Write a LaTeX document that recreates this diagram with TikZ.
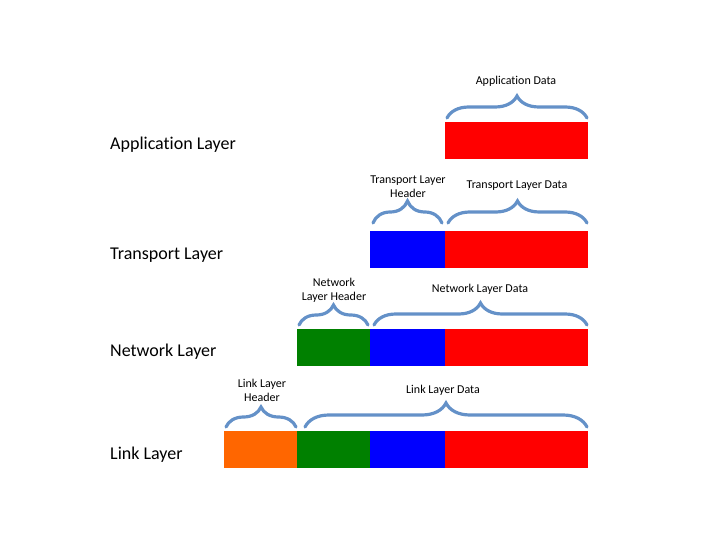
\documentclass[tikz,border=0pt]{standalone}
\usepackage{fontspec}
\setmainfont{Carlito}[Ligatures={NoCommon}]
\usetikzlibrary{decorations.pathreplacing}
\definecolor{cred}{RGB}{255,0,0}
\definecolor{cblue}{RGB}{0,0,255}
\definecolor{cgreen}{RGB}{0,128,0}
\definecolor{corange}{RGB}{255,102,0}
\definecolor{bracecol}{RGB}{100,145,200}
\tikzset{
  seg/.style={anchor=north west, inner sep=0pt, minimum height=37pt, draw=none},
  layer/.style={anchor=west, font=\fontsize{18}{20}\selectfont, inner sep=0pt},
  lab/.style={font=\fontsize{12}{14}\selectfont, align=center, inner sep=0pt},
  brc/.style={draw=bracecol, line width=3.2pt, line cap=round, decorate, decoration={brace, amplitude=#1}},
  brc/.default=22pt
}
\begin{document}
\begin{tikzpicture}[x=1pt,y=-1pt]
\useasboundingbox (0,0) rectangle (720,540);
% layer labels
\node[layer] (lapp) at (110,145) {Application Layer};
\node[layer] (ltra) at (110,255) {Transport Layer};
\node[layer] (lnet) at (110,352) {Network Layer};
\node[layer] (llnk) at (110,455) {Link Layer};
% application
\node[seg, fill=cred, minimum width=143pt] (a1) at (445,122) {};
\coordinate (ab1) at (447,118); \coordinate (ab2) at (587,118);
\draw[brc=22pt] (ab1) -- (ab2);
\node[lab] (atx) at (516,81) {Application Data};
% transport
\node[seg, fill=cblue, minimum width=75pt] (t1) at (370,231) {};
\node[seg, fill=cred, minimum width=143pt] (t2) at (445,231) {};
\coordinate (th1) at (373,223); \coordinate (th2) at (442,223);
\draw[brc=22pt] (th1) -- (th2);
\coordinate (td1) at (448,223); \coordinate (td2) at (587,223);
\draw[brc=22pt] (td1) -- (td2);
\node[lab] (thx) at (408,187) {Transport Layer\\Header};
\node[lab] (tdx) at (517,186) {Transport Layer Data};
% network
\node[seg, fill=cgreen, minimum width=73pt] (n1) at (297,329) {};
\node[seg, fill=cblue, minimum width=75pt] (n2) at (370,329) {};
\node[seg, fill=cred, minimum width=143pt] (n3) at (445,329) {};
\coordinate (nh1) at (299,325); \coordinate (nh2) at (368,325);
\draw[brc=20pt] (nh1) -- (nh2);
\coordinate (nd1) at (374,325); \coordinate (nd2) at (587,325);
\draw[brc=22pt] (nd1) -- (nd2);
\node[lab] (nhx) at (334,290) {Network\\Layer Header};
\node[lab] (ndx) at (480,289) {Network Layer Data};
% link
\node[seg, fill=corange, minimum width=73pt] (k1) at (224,431) {};
\node[seg, fill=cgreen, minimum width=73pt] (k2) at (297,431) {};
\node[seg, fill=cblue, minimum width=75pt] (k3) at (370,431) {};
\node[seg, fill=cred, minimum width=143pt] (k4) at (445,431) {};
\coordinate (kh1) at (226,427); \coordinate (kh2) at (296,427);
\draw[brc=20pt] (kh1) -- (kh2);
\coordinate (kd1) at (305,427); \coordinate (kd2) at (587,427);
\draw[brc=24pt] (kd1) -- (kd2);
\node[lab] (khx) at (262,390) {Link Layer\\Header};
\node[lab] (kdx) at (443,390) {Link Layer Data};
\end{tikzpicture}
\end{document}
